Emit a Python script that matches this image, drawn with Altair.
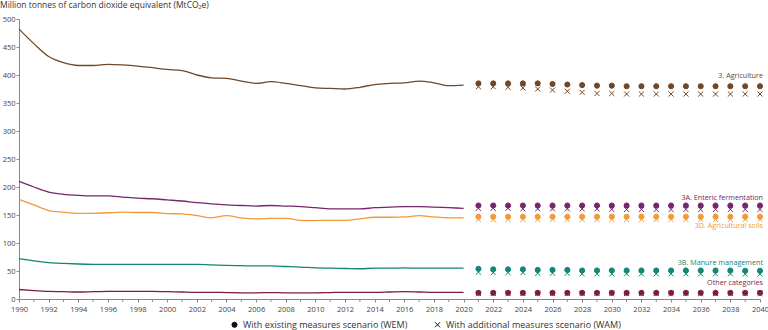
import altair as alt
import pandas as pd

# ---------------- data ----------------
years_hist = list(range(1990, 2021))
years_proj = list(range(2021, 2041))

series = ["3. Agriculture", "3A. Enteric fermentation", "3D. Agricultural soils",
          "3B. Manure management", "Other categories"]
colors = ["#6e4829", "#76266c", "#f09a38", "#148576", "#7d1d3d"]

agri_hist = [482, 456, 433, 422, 417, 417, 419, 418, 416, 413, 410, 408, 400, 395, 394,
             389, 385, 388, 385, 381, 377, 376, 375, 378, 383, 385, 386, 389, 386, 381, 382]
enteric_hist = [210, 200, 191, 187, 185, 184, 184, 182, 180, 179, 177, 175, 172, 170, 168,
                167, 166, 167, 166, 165, 163, 161, 161, 161, 163, 164, 165, 165, 164, 163, 162]
soils_hist = [178, 168, 158, 155, 153, 153, 154, 155, 154.5, 154.5, 152.5, 152, 149, 145, 149,
              145, 143, 144, 144, 140.5, 140, 140.5, 140.5, 143, 146, 146, 146.5, 149, 146.5, 145, 145]
manure_hist = [72, 68, 65, 63.5, 62.5, 62, 62, 62, 62, 62, 62, 62, 62, 61, 60,
               59.5, 59, 59, 58, 57, 55.5, 55, 54.5, 54, 55, 55, 55.5, 55, 55, 55, 55]
other_hist = [17, 15, 13.5, 13, 12.5, 13, 13.5, 13.5, 13.5, 13.5, 13, 12.5, 12, 12, 11.5,
              11, 11, 11.5, 11, 11, 11, 11.5, 12, 12, 12, 12.5, 13, 12.5, 12, 12, 12]

agri_wem = [385, 385, 385, 385, 385, 384, 383, 382, 381, 381, 380, 380, 380, 380, 380,
            380, 380, 380, 380, 380]
agri_wam = [379, 379, 378, 377, 375, 373, 371, 369, 367, 367, 366, 366, 366, 366, 366,
            366, 366, 366, 366, 366]
enteric_wem = [167, 167, 167, 167, 167, 167, 167, 167, 167, 167, 167, 167, 167, 167, 167,
               167, 167, 167, 167, 167]
enteric_wam = [162, 162, 162, 161, 161, 161, 161, 161, 161, 160, 160, 160, 160, 160, 160,
               160, 160, 160, 160, 160]
soils_wem = [147, 147, 147, 147, 147, 147, 147, 147, 147, 147, 147, 147, 147, 147, 147,
             147, 147, 147, 147, 147]
soils_wam = [142, 142, 142, 142, 142, 142, 142, 142, 142, 142, 142, 142, 142, 142, 142,
             142, 142, 142, 142, 142]
manure_wem = [54, 53, 53, 53, 52, 52, 52, 51, 51, 51, 51, 51, 51, 51, 51,
              51, 51, 51, 50.5, 50.5]
manure_wam = [48, 47, 47, 47, 46, 46, 46, 45, 45, 45, 45, 45, 45, 45, 45,
              45, 45, 45, 44.5, 44.5]
other_wem = [11, 11, 11, 11, 11, 11, 11, 11, 11, 11, 11, 11, 11, 11, 11,
             11, 11, 11, 11, 11]
other_wam = [10, 10, 10, 10, 10, 10, 10, 10, 10, 10, 10, 10, 10, 10, 10,
             10, 10, 10, 10, 10]

major_years = list(range(1990, 2041, 2))
minor_years = list(range(1991, 2040, 2))

scenarios = ["With existing measures scenario (WEM)", "With additional measures scenario (WAM)"]
title_text = "Million tonnes of carbon dioxide equivalent (MtCO\u2082e)"

hist_all = [agri_hist, enteric_hist, soils_hist, manure_hist, other_hist]
wem_all = [agri_wem, enteric_wem, soils_wem, manure_wem, other_wem]
wam_all = [agri_wam, enteric_wam, soils_wam, manure_wam, other_wam]

# ---------------- tables ----------------
hist_rows = []
for s, vals in zip(series, hist_all):
    for y, v in zip(years_hist, vals):
        hist_rows.append({"year": y, "value": v, "series": s})
hist_df = pd.DataFrame(hist_rows)

proj_rows = []
for s, wam in zip(series, wam_all):
    for y, v in zip(years_proj, wam):
        proj_rows.append({"year": y, "value": v, "series": s, "scenario": scenarios[1], "order": 0})
for s, wem in zip(series, wem_all):
    for y, v in zip(years_proj, wem):
        proj_rows.append({"year": y, "value": v, "series": s, "scenario": scenarios[0], "order": 1})
proj_df = pd.DataFrame(proj_rows)

FONT = "Open Sans"
PLOT_W, PLOT_H = 741, 280
AXIS_GREY = "#888"
color_scale = alt.Scale(domain=series, range=colors)
x_scale = alt.Scale(domain=[1990, 2040], nice=False)
y_scale = alt.Scale(domain=[0, 500], nice=False)

x_axis = alt.Axis(values=major_years, format="d", labelOverlap=False, labelFlush=False,
                  title=None, grid=False, tickSize=3, labelPadding=3, labelFontSize=7.5)
y_axis = alt.Axis(values=list(range(0, 501, 50)), title=None, grid=False,
                  tickSize=3, labelPadding=1, labelFontSize=7.5)


def xe():
    return alt.X("year:Q", scale=x_scale, axis=x_axis)


def ye():
    return alt.Y("value:Q", scale=y_scale, axis=y_axis)


lines = alt.Chart(hist_df).mark_line(strokeWidth=1.3, interpolate="monotone").encode(
    x=xe(), y=ye(),
    color=alt.Color("series:N", scale=color_scale, legend=None),
    detail="series:N",
)

# minor ticks on odd years (axis decoration)
minor = alt.Chart(pd.DataFrame({"year": minor_years})).mark_rule(
    color=AXIS_GREY, strokeWidth=1).encode(
    x=xe(), y=alt.value(PLOT_H), y2=alt.value(PLOT_H + 3))

X_PATH = "M-1,-1L1,1M-1,1L1,-1"
points = alt.Chart(proj_df).mark_point(filled=True, size=26, strokeWidth=1, opacity=1).encode(
    x=xe(), y=ye(),
    color=alt.Color("series:N", scale=color_scale, legend=None),
    stroke=alt.Stroke("series:N", scale=color_scale, legend=None),
    shape=alt.Shape("scenario:N", scale=alt.Scale(domain=scenarios, range=["circle", X_PATH]),
                    legend=alt.Legend(title=None, orient="none", direction="horizontal",
                                      legendX=211, legendY=301, labelFontSize=9,
                                      labelFont=FONT, labelColor="#333", labelLimit=400,
                                      symbolFillColor="#111", symbolStrokeColor="#111",
                                      symbolSize=26, symbolStrokeWidth=1,
                                      columnPadding=24, labelOffset=4)),
    order=alt.Order("order:Q"),
)

label_offsets = [-10, -7, 9, -8, -10]
labels = []
for s, c, wem, dy in zip(series, colors, wem_all, label_offsets):
    ldf = pd.DataFrame({"year": [2040], "value": [wem[-1]], "label": [s]})
    labels.append(
        alt.Chart(ldf).mark_text(align="right", baseline="middle", dx=3, dy=dy,
                                 fontSize=7.2, font=FONT, color=c).encode(
            x=xe(), y=ye(), text="label:N")
    )

chart = alt.layer(lines, minor, points, *labels).properties(
    width=PLOT_W, height=PLOT_H,
    autosize=alt.AutoSizeParams(type="none"),
    padding={"left": 19, "top": 19, "right": 8, "bottom": 31},
    title=alt.Title(title_text, anchor="start", frame="group", dx=-19, offset=6,
                    fontSize=8.5, font=FONT, fontWeight="normal", color="#333"),
).configure_view(stroke=None).configure_axis(
    labelFont=FONT, labelColor="#444",
    domainColor=AXIS_GREY, tickColor=AXIS_GREY,
).configure_axisX(labelOverlap=False, labelFlush=False)

chart.save("out.html", embed_options={"renderer": "svg", "actions": False})
